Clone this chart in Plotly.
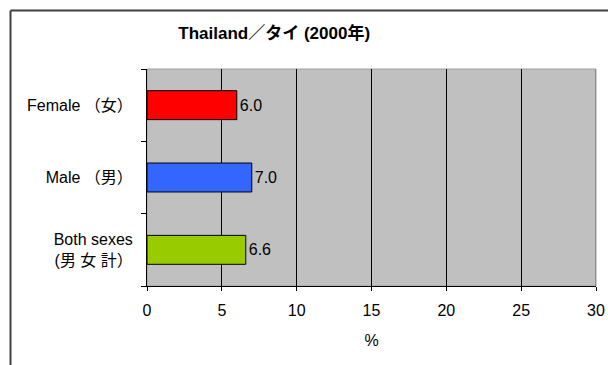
import plotly.graph_objects as go

# data
categories = ["Both sexes<br>(男 女 計）", "Male （男）", "Female （女）"]
values = [6.6, 7.0, 6.0]
bar_colors = ["#99CC00", "#3366FF", "#FF0000"]
x_ticks = [0, 5, 10, 15, 20, 25, 30]

FONT = "Arial, 'Liberation Sans', 'Noto Sans CJK JP', sans-serif"
W, H = 608, 365

fig = go.Figure()
fig.add_trace(go.Bar(
    y=categories,
    x=values,
    orientation="h",
    marker=dict(color=bar_colors, line=dict(color="black", width=1)),
    text=[f"{v:.1f}" for v in values],
    textposition="outside",
    textfont=dict(size=16, color="black", family=FONT),
    cliponaxis=False,
    width=0.4,
    hoverinfo="skip",
))

# plot area border (grey, Excel style)
fig.add_shape(type="rect", xref="paper", yref="paper", x0=0, x1=1, y0=0, y1=1,
              line=dict(color="#a0a0a0", width=1), layer="below")
fig.add_shape(type="line", xref="x", yref="paper", x0=30, x1=30, y0=0, y1=1,
              line=dict(color="#808080", width=1.5))
# outer chart frame: left and top edges (right/bottom fall outside the picture)
frame_left, frame_top = -0.304, 1.27
fig.add_shape(type="line", xref="paper", yref="paper",
              x0=frame_left, x1=frame_left, y0=-0.5, y1=frame_top,
              line=dict(color="#404040", width=2))
fig.add_shape(type="line", xref="paper", yref="paper",
              x0=frame_left, x1=1.2, y0=frame_top, y1=frame_top,
              line=dict(color="#404040", width=2))

fig.update_layout(
    width=W, height=H,
    margin=dict(l=147, r=12, t=69, b=79, autoexpand=False),
    paper_bgcolor="white",
    plot_bgcolor="#C0C0C0",
    showlegend=False,
    font=dict(family=FONT, size=16, color="black"),
    title=dict(text="<b>Thailand／タイ (2000年)</b>", x=0.451, xanchor="center",
               y=0.910, yanchor="middle", font=dict(size=17, family=FONT)),
    xaxis=dict(
        range=[0, 30], tickvals=x_ticks, ticks="outside", ticklen=4,
        tickcolor="black", showline=True, linecolor="black", linewidth=1,
        showgrid=True, gridcolor="black", gridwidth=1, zeroline=False,
        title=dict(text="%", font=dict(size=16), standoff=16),
        tickfont=dict(size=16), automargin=False, ticklabelstandoff=6,
    ),
    yaxis=dict(
        type="category", ticks="outside", ticklen=5, tickcolor="black",
        tickson="boundaries", showline=True, linecolor="black", linewidth=1,
        showgrid=False, tickfont=dict(size=16), ticklabelstandoff=10,
        automargin=False,
    ),
)

# drop the default 8px page margin so the figure sits at the window corner
fig.write_html("out.html", config={"displayModeBar": False},
               post_script="document.body.style.margin='0';")
